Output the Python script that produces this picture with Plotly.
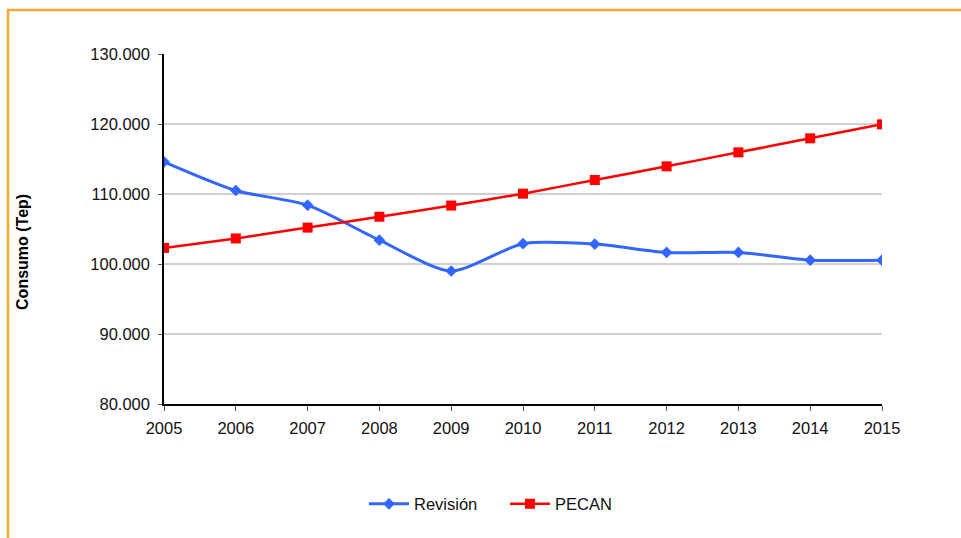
import plotly.graph_objects as go

years = [2005, 2006, 2007, 2008, 2009, 2010, 2011, 2012, 2013, 2014, 2015]
revision = [114600, 110500, 108400, 103400, 99000, 102900, 102850, 101650, 101650, 100550, 100550]
pecan = [102300, 103650, 105200, 106750, 108350, 110050, 112000, 113950, 115950, 117950, 119950]

FONT = "Liberation Sans, Arial, sans-serif"

fig = go.Figure()
fig.add_trace(go.Scatter(
    x=years, y=revision, name="Revisión", mode="lines+markers",
    line=dict(color="#3366FF", width=3, shape="spline", smoothing=0.7),
    marker=dict(symbol="diamond", size=9, color="#3366FF"),
))
fig.add_trace(go.Scatter(
    x=years, y=pecan, name="PECAN", mode="lines+markers",
    line=dict(color="#FF0000", width=2.5, shape="spline", smoothing=0.5),
    marker=dict(symbol="square", size=10, color="#FF0000"),
))

fig.update_layout(
    width=961, height=538,
    margin=dict(l=164, r=79, t=54, b=134),
    paper_bgcolor="white", plot_bgcolor="white",
    separators=",.",
    font=dict(family=FONT, size=16, color="#111111"),
    showlegend=True,
    legend=dict(orientation="h", x=0.2785, y=-0.286, xanchor="left", yanchor="middle",
                font=dict(size=16.5), itemwidth=40, entrywidth=86,
                traceorder="normal"),
    xaxis=dict(
        range=[2005, 2015], tickvals=years, ticktext=[str(y) for y in years],
        showline=True, linecolor="black", linewidth=1.5,
        ticks="outside", ticklen=5, tickcolor="#555555",
        showgrid=False, zeroline=False, tickfont=dict(size=16.5),
        ticklabelstandoff=3,
    ),
    yaxis=dict(
        range=[80000, 130000], dtick=10000, tickformat=",d",
        showline=True, linecolor="black", linewidth=1.5,
        ticks="outside", ticklen=4, tickcolor="#555555",
        showgrid=True, gridcolor="#D0D0D0", gridwidth=1.5,
        zeroline=False, tickfont=dict(size=16.5),
        ticklabelstandoff=5,
    ),
    annotations=[dict(
        text="<b>Consumo (Tep)</b>", textangle=-90, showarrow=False,
        xref="paper", yref="paper", x=-0.198, y=0.434,
        xanchor="center", yanchor="middle", font=dict(size=16, color="black"),
    )],
    shapes=[dict(
        type="rect", xref="paper", yref="paper",
        x0=-0.2173, x1=1.3, y0=-0.6, y1=1.1257,
        line=dict(color="#FFA631", width=2.5), layer="below",
    )],
)

fig.write_html("out.html")
